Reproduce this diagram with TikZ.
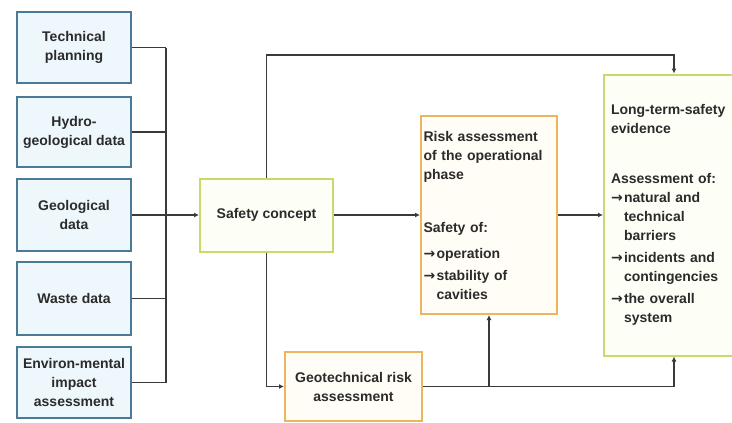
\documentclass[tikz,border=0pt]{standalone}
\usepackage{fontspec}
\setmainfont{Liberation Sans}
\newfontfamily\arrfont{DejaVu Sans}
\usetikzlibrary{arrows.meta}
\definecolor{bluebd}{HTML}{4A7A96}
\definecolor{bluefl}{HTML}{EEF7FB}
\definecolor{greenbd}{HTML}{C6DB6B}
\definecolor{greenfl}{HTML}{FDFEF6}
\definecolor{orangebd}{HTML}{EBB65E}
\definecolor{orangefl}{HTML}{FFFDF6}
\definecolor{linec}{HTML}{3A3A3A}
\definecolor{txt}{HTML}{2B2B2B}
\newcommand\myarr{\makebox[13pt][l]{\arrfont\bfseries →}}
\newcommand\myind{\hspace*{13pt}}
\begin{document}
\begin{tikzpicture}[x=1pt,y=-1pt,
  every node/.style={font=\fontsize{14}{19}\selectfont\bfseries, text=txt},
  inbox/.style={draw=bluebd, fill=bluefl, line width=2pt, minimum width=114pt, inner sep=1pt, align=center},
  greenbox/.style={draw=greenbd, fill=greenfl, line width=2pt, inner sep=1pt},
  orangebox/.style={draw=orangebd, fill=orangefl, line width=2pt, inner sep=1pt},
  conn/.style={draw=linec, line width=1.8pt},
  arr/.style={conn, -{Latex[length=5pt,width=5pt]}}
]
\clip (0,0) rectangle (732,423);
\fill[white] (0,0) rectangle (732,423);

% left input boxes
\node[inbox, minimum height=71pt] (tp) at (74,47.5) {Technical\\planning};
\node[inbox, minimum height=70pt] (hy) at (74,132) {Hydro-\\geological data};
\node[inbox, minimum height=72pt] (ge) at (74,215) {Geological\\data};
\node[inbox, minimum height=73pt] (wa) at (74,298.5) {Waste data};
\node[inbox, minimum height=71pt] (en) at (74,382.5) {Environ-mental\\impact\\assessment};

% central boxes
\node[greenbox, minimum width=133pt, minimum height=73pt] (sc) at (266.5,215) {Safety concept};
\node[orangebox, minimum height=198pt, text width=131pt, inner xsep=2.5pt, align=left] (rk) at (489,215)
  {Risk assessment\\of the operational\\phase\\[34pt]Safety of:\\[7pt]\myarr operation\\[3pt]\myarr stability of\\\myind cavities};
\node[greenbox, minimum height=281pt, text width=126pt, inner xsep=7pt, align=left] (lt) at (674,215)
  {Long-term-safety\\evidence\\[31pt]Assessment of:\\\myarr natural and\\\myind technical\\\myind barriers\\[3pt]\myarr incidents and\\\myind contingencies\\[3pt]\myarr the overall\\\myind system};
\node[orangebox, minimum width=137pt, minimum height=69pt, align=center] (gt) at (353.5,386.5) {Geotechnical risk\\assessment};

% bus
\coordinate (bus) at (166,215);
\coordinate (topY) at (0,55);
\draw[conn] (tp.east) -- (tp.east -| bus);
\draw[conn] (hy.east) -- (hy.east -| bus);
\draw[conn] (wa.east) -- (wa.east -| bus);
\draw[conn] (en.east) -- (en.east -| bus);
\draw[conn] (tp.east -| bus) -- (en.east -| bus);
\draw[arr] (ge.east) -- (sc.west);

% main flow
\draw[arr] (sc.east) -- (rk.west);
\draw[arr] (rk.east) -- (lt.west);
\draw[arr] (sc.north) -- (sc.north |- topY) -| (lt.north);
\draw[arr] (sc.south) |- (gt.west);
\draw[arr] (gt.east) -| (lt.south);
\coordinate (j) at (gt.east -| rk.south);
\draw[arr] (j) -- (rk.south);
\end{tikzpicture}
\end{document}
